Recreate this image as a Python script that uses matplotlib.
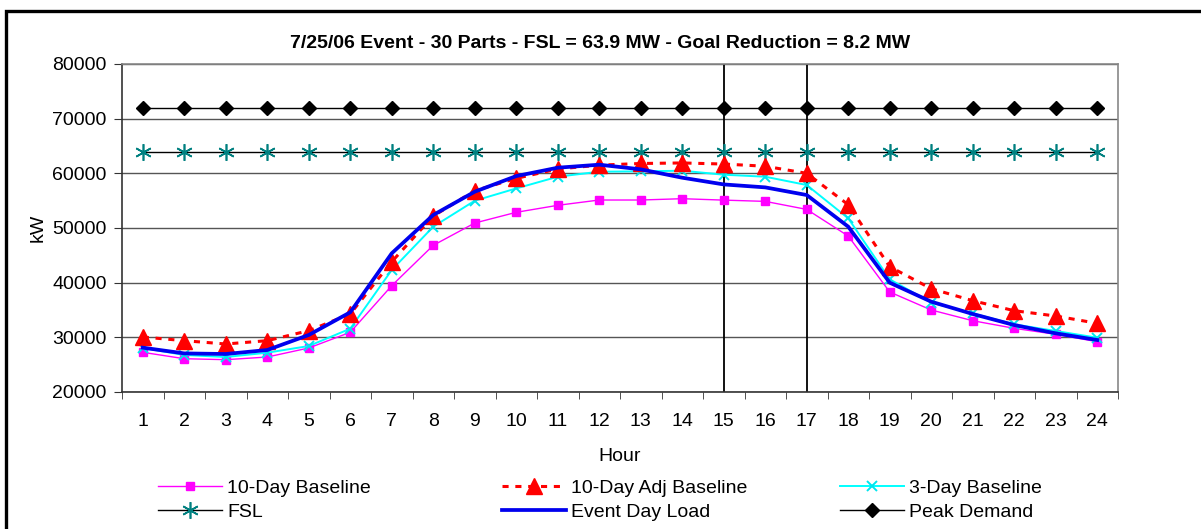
import matplotlib
matplotlib.use("Agg")
import matplotlib.pyplot as plt
from matplotlib.patches import Rectangle
from matplotlib.ticker import FixedLocator, NullFormatter

plt.rcParams['font.family'] = ['Liberation Sans', 'DejaVu Sans']

hours = list(range(1, 25))
baseline_10day = [27260, 26090, 25910, 26400, 28050, 30920, 39450, 46830, 50910, 52870,
                  54150, 55120, 55120, 55360, 55100, 54870, 53400, 48530, 38290, 35000,
                  33040, 31650, 30550, 29200]
adj_baseline_10day = [30060, 29390, 28780, 29390, 31220, 34270, 43830, 52190, 56820, 59080,
                      60790, 61500, 61800, 61900, 61700, 61300, 60000, 54260, 42920, 38900,
                      36700, 34870, 33900, 32560]
baseline_3day = [28050, 26770, 26400, 27190, 28410, 31580, 42320, 50240, 54990, 57240,
                 59380, 60300, 60360, 60480, 59750, 59380, 57860, 51770, 40610, 36340,
                 34390, 32380, 31160, 29930]
event_day_load = [28110, 27060, 26950, 27680, 30430, 34580, 45370, 52380, 56640, 59500,
                  61030, 61580, 60730, 59200, 57970, 57430, 56030, 50240, 39990, 36520,
                  34270, 32250, 30730, 29510]
fsl = [63900] * 24
peak_demand = [72000] * 24
event_hours = [15, 17]

title = "7/25/06 Event - 30 Parts - FSL = 63.9 MW - Goal Reduction = 8.2 MW"

W, H = 1201, 529
fig = plt.figure(figsize=(W / 100, H / 100), dpi=100)
ax = fig.add_axes([122 / W, 1 - 392 / H, (1118 - 122) / W, (392 - 64) / H])

ax.set_xlim(0.5, 24.5)
ax.set_ylim(20000, 80000)
ax.set_yticks(range(20000, 80001, 10000))
ax.yaxis.grid(True, color='#555555', linewidth=1.0)
ax.set_axisbelow(True)

ax.set_xticks(hours)
ax.xaxis.set_minor_locator(FixedLocator([h + 0.5 for h in range(0, 25)]))
ax.xaxis.set_minor_formatter(NullFormatter())
ax.tick_params(axis='x', which='major', length=0, pad=15, labelsize=14)
ax.tick_params(axis='x', which='minor', length=5, direction='out', color='#333333')
ax.tick_params(axis='y', length=6, direction='out', labelsize=14, color='#333333', pad=5)

for side in ['top', 'right']:
    ax.spines[side].set_color('#888888')
    ax.spines[side].set_linewidth(1.2)
for side in ['left', 'bottom']:
    ax.spines[side].set_color('#333333')
    ax.spines[side].set_linewidth(1.2)

for h in event_hours:
    ax.axvline(h, color='black', linewidth=1.3, zorder=1.5)

l_peak, = ax.plot(hours, peak_demand, color='black', linewidth=1.0, marker='D',
                  markersize=7, markerfacecolor='black', markeredgecolor='black')
l_fsl, = ax.plot(hours, fsl, color='black', linewidth=1.0, marker=(6, 2, 0),
                 markersize=12, markeredgecolor='#008080', markeredgewidth=1.2)
l_10, = ax.plot(hours, baseline_10day, color='#FF00FF', linewidth=1.0, marker='s',
                markersize=6, markerfacecolor='#FF00FF', markeredgecolor='#FF00FF')
l_3, = ax.plot(hours, baseline_3day, color='#00FFFF', linewidth=1.4, marker='x',
               markersize=7, markeredgecolor='#00E5EE', markeredgewidth=1.4)
l_adj, = ax.plot(hours, adj_baseline_10day, color='#FF0000', linewidth=2.2,
                 linestyle=(0, (2.0, 2.2)), marker='^', markersize=11,
                 markerfacecolor='#FF0000', markeredgecolor='#FF0000')
l_ev, = ax.plot(hours, event_day_load, color='#0000EE', linewidth=2.7)

fig.text(0.5, 1 - 43.5 / H, title, fontsize=14, fontweight='bold', ha='center', va='center')
ax.set_xlabel("Hour", fontsize=14, labelpad=13)
ax.set_ylabel("kW", fontsize=14, labelpad=4)

cols = [
    ([l_10, l_fsl], ["10-Day Baseline", "FSL"], 158),
    ([l_adj, l_ev], ["10-Day Adj Baseline", "Event Day Load"], 502),
    ([l_3, l_peak], ["3-Day Baseline", "Peak Demand"], 840),
]
for hs, ls, x0 in cols:
    fig.legend(hs, ls, loc='upper left', bbox_to_anchor=(x0 / W, 1 - 479 / H),
               frameon=False, fontsize=14, handlelength=3.3, handletextpad=0.25,
               labelspacing=0.35, borderpad=0, borderaxespad=0)

frame = Rectangle((5.8 / W, 1 - 560 / H), 1.1, (560 - 10.7) / H, transform=fig.transFigure,
                  fill=False, edgecolor='black', linewidth=2.4, clip_on=False)
fig.patches.append(frame)

fig.savefig("out.png", dpi=100)
